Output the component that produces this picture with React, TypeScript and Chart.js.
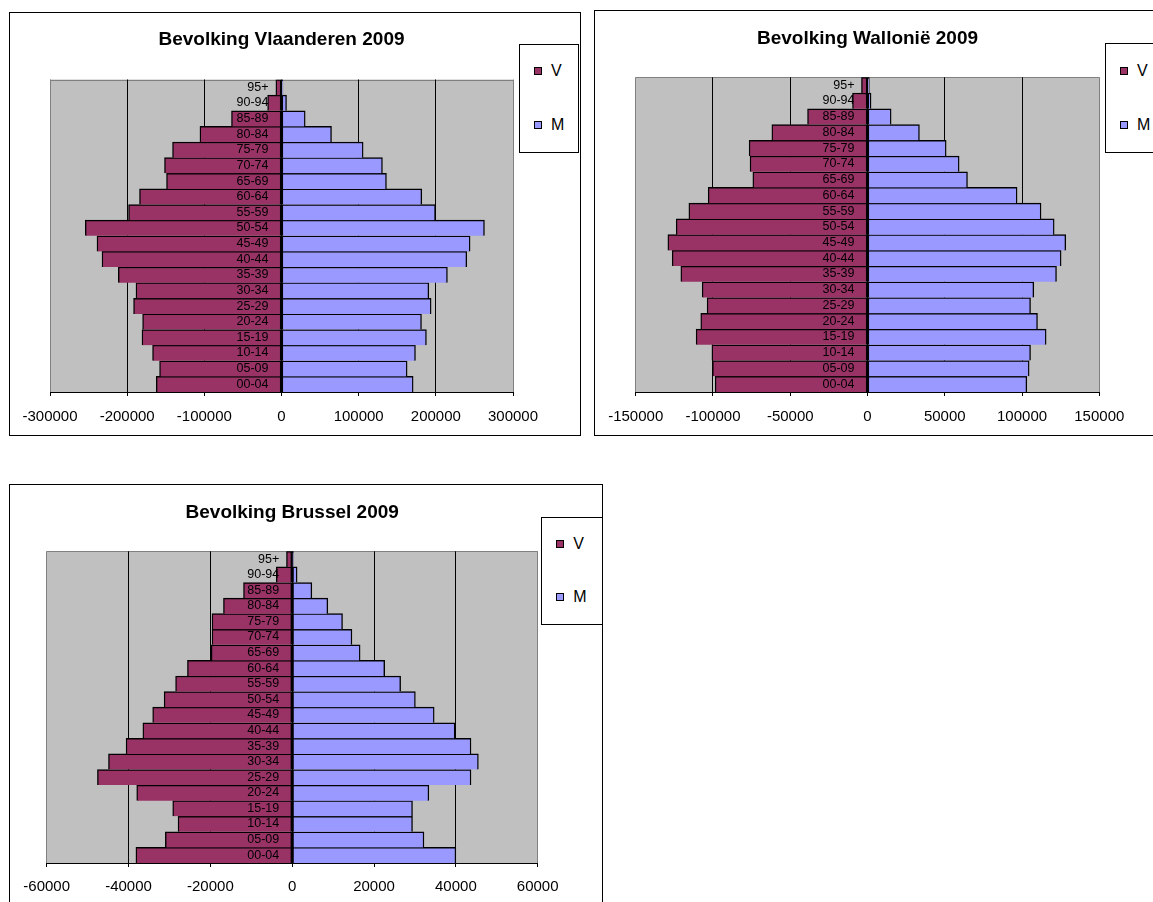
import React, { useEffect, useRef } from 'react';
import { Chart, registerables } from 'chart.js';

Chart.register(...registerables);

// ---------- data ----------
const ageGroups = [
  '00-04', '05-09', '10-14', '15-19', '20-24', '25-29', '30-34', '35-39', '40-44', '45-49',
  '50-54', '55-59', '60-64', '65-69', '70-74', '75-79', '80-84', '85-89', '90-94', '95+',
];

const seriesLabels = ['V', 'M'];

const vlaanderenV = [
  162300, 158000, 167100, 180800, 180000, 191700, 188600, 211500, 232600, 239100,
  254300, 198200, 184000, 149000, 151600, 141200, 105700, 64800, 18000, 7300,
];
const vlaanderenM = [
  170600, 162800, 173600, 187800, 181400, 193900, 190900, 215000, 240100, 244400,
  263000, 199500, 181800, 136000, 130800, 105800, 64800, 30700, 6500, 1800,
];

const wallonieV = [
  98600, 100300, 100700, 110900, 107900, 103800, 107000, 120800, 126400, 129200,
  123800, 115600, 103100, 74200, 76000, 76600, 61900, 38800, 9700, 3900,
];
const wallonieM = [
  103100, 104600, 105500, 115600, 110000, 105500, 107600, 122300, 125300, 128300,
  120800, 112300, 96800, 64700, 59300, 50900, 33600, 15300, 2300, 1200,
];

const brusselV = [
  38200, 31000, 27900, 29200, 38000, 47600, 44900, 40600, 36500, 34100,
  31300, 28500, 25600, 19800, 19600, 19600, 16800, 11900, 3900, 1400,
];
const brusselM = [
  40000, 32200, 29400, 29400, 33400, 43700, 45500, 43700, 39800, 34700,
  30100, 26500, 22600, 16600, 14600, 12300, 8700, 4800, 1200, 300,
];

const vlaanderenTicks = [-300000, -200000, -100000, 0, 100000, 200000, 300000];
const wallonieTicks = [-150000, -100000, -50000, 0, 50000, 100000, 150000];
const brusselTicks = [-60000, -40000, -20000, 0, 20000, 40000, 60000];

// ---------- styles ----------
const FONT = 'Arial, "Liberation Sans", Helvetica, sans-serif';
const COLOR_V = '#993366';
const COLOR_M = '#9999FF';
const PLOT_BG = '#C0C0C0';

const pyramidPlugin = {
  id: 'pyramidDecor',
  beforeDraw(chart: any) {
    const { ctx, chartArea: a } = chart;
    ctx.save();
    ctx.fillStyle = PLOT_BG;
    ctx.fillRect(a.left, a.top, a.right - a.left, a.bottom - a.top);
    ctx.strokeStyle = '#808080';
    ctx.lineWidth = 1;
    ctx.beginPath();
    const ty = Math.round(a.top) + 0.5;
    ctx.moveTo(a.left, ty);
    ctx.lineTo(a.right, ty);
    ctx.stroke();
    ctx.restore();
  },
  afterDatasetsDraw(chart: any) {
    const { ctx } = chart;
    const xs = chart.scales.x;
    const ys = chart.scales.y;
    const x0 = xs.getPixelForValue(0);
    ctx.save();
    ctx.font = `12.5px ${FONT}`;
    ctx.fillStyle = '#000';
    ctx.textAlign = 'right';
    ctx.textBaseline = 'middle';
    (chart.data.labels as string[]).forEach((lab, i) => {
      ctx.fillText(lab, x0 - 13, ys.getPixelForValue(i));
    });
    ctx.restore();
  },
};

type Box = { left: number; top: number; width: number; height: number };

type PyramidProps = {
  title: string;
  women: number[];
  men: number[];
  ticks: number[];
  frame: Box;
  plotLeft: number;
  plotRight: number;
  axisHeight: number;
  titlePad: { top: number; bottom: number };
  tickPad: number;
  legend: Box & { vY: number; mY: number };
};

function Pyramid(p: PyramidProps) {
  const ref = useRef<HTMLCanvasElement>(null);
  const cw = p.frame.width - 2;
  const ch = p.frame.height - 2;

  useEffect(() => {
    const limit = p.ticks[p.ticks.length - 1];
    const step = p.ticks[1] - p.ticks[0];
    const border = { top: 1.5, right: 1.4, bottom: 0, left: 1.4 };
    const chart = new Chart(ref.current as HTMLCanvasElement, {
      type: 'bar',
      data: {
        labels: ageGroups,
        datasets: [
          {
            label: seriesLabels[0],
            data: p.women.map((v) => -v),
            backgroundColor: COLOR_V,
            borderColor: '#000',
            borderWidth: border,
            borderSkipped: false,
            barPercentage: 1,
            categoryPercentage: 1,
          },
          {
            label: seriesLabels[1],
            data: p.men,
            backgroundColor: COLOR_M,
            borderColor: '#000',
            borderWidth: border,
            borderSkipped: false,
            barPercentage: 1,
            categoryPercentage: 1,
          },
        ],
      },
      options: {
        responsive: false,
        animation: false,
        indexAxis: 'y',
        layout: { padding: { left: p.plotLeft, right: cw - p.plotRight, top: 0, bottom: 0 } },
        plugins: {
          legend: { display: false },
          tooltip: { enabled: false },
          title: {
            display: true,
            text: p.title,
            color: '#000',
            font: { family: FONT, size: 19, weight: 'bold', lineHeight: 1.2 },
            padding: { top: p.titlePad.top, bottom: p.titlePad.bottom },
          },
        },
        scales: {
          x: {
            type: 'linear',
            min: p.ticks[0],
            max: limit,
            stacked: true,
            afterFit: (s: any) => {
              s.height = p.axisHeight;
            },
            ticks: {
              stepSize: step,
              color: '#000',
              padding: p.tickPad,
              maxRotation: 0,
              autoSkip: false,
              font: { family: FONT, size: 15, lineHeight: 1.6 },
              callback: (v: any) => String(v),
            },
            grid: {
              color: (c: any) =>
                c.tick && Math.abs(c.tick.value) === limit ? '#808080' : '#000',
              tickColor: '#000',
              tickLength: 4,
              lineWidth: 1,
            },
            border: { display: true, color: '#000', width: 1, z: 1 },
          },
          y: {
            type: 'category',
            display: false,
            reverse: true,
            stacked: true,
            offset: true,
          },
        },
      } as any,
      plugins: [pyramidPlugin],
    });
    return () => chart.destroy();
  }, []);

  const lg = p.legend;
  const item = (label: string, color: string, cy: number) => (
    <React.Fragment key={label}>
      <div
        style={{
          position: 'absolute',
          left: 14,
          top: cy - 5,
          width: 8,
          height: 8,
          boxSizing: 'border-box',
          border: '1px solid #000',
          background: color,
        }}
      />
      <div
        style={{
          position: 'absolute',
          left: 31,
          top: cy - 10,
          height: 18,
          lineHeight: '18px',
          fontFamily: FONT,
          fontSize: 16,
          color: '#000',
          whiteSpace: 'nowrap',
        }}
      >
        {label}
      </div>
    </React.Fragment>
  );

  return (
    <div
      style={{
        position: 'absolute',
        left: p.frame.left,
        top: p.frame.top,
        width: p.frame.width,
        height: p.frame.height,
        boxSizing: 'border-box',
        border: '1px solid #000',
        background: '#fff',
      }}
    >
      <canvas
        ref={ref}
        width={cw}
        height={ch}
        style={{ position: 'absolute', left: 0, top: 0, width: cw, height: ch }}
      />
      <div
        style={{
          position: 'absolute',
          left: lg.left,
          top: lg.top,
          width: lg.width,
          height: lg.height,
          boxSizing: 'border-box',
          border: '1px solid #000',
          background: '#fff',
        }}
      >
        {item(seriesLabels[0], COLOR_V, lg.vY)}
        {item(seriesLabels[1], COLOR_M, lg.mY)}
      </div>
    </div>
  );
}

export default function App() {
  return (
    <div
      style={{
        position: 'fixed',
        left: 0,
        top: 0,
        width: 1153,
        height: 902,
        overflow: 'hidden',
        background: '#fff',
      }}
    >
      <Pyramid
        title="Bevolking Vlaanderen 2009"
        women={vlaanderenV}
        men={vlaanderenM}
        ticks={vlaanderenTicks}
        frame={{ left: 9, top: 12, width: 572, height: 424 }}
        plotLeft={40}
        plotRight={503}
        axisHeight={43}
        titlePad={{ top: 15.1, bottom: 28.6 }}
        tickPad={9}
        legend={{ left: 509, top: 31, width: 60, height: 109, vY: 27, mY: 81 }}
      />
      <Pyramid
        title="Bevolking Wallonië 2009"
        women={wallonieV}
        men={wallonieM}
        ticks={wallonieTicks}
        frame={{ left: 594, top: 10, width: 572, height: 426 }}
        plotLeft={40.7}
        plotRight={504.3}
        axisHeight={43}
        titlePad={{ top: 15.9, bottom: 27.6 }}
        tickPad={8.7}
        legend={{ left: 510, top: 32.3, width: 60, height: 110, vY: 27.5, mY: 82 }}
      />
      <Pyramid
        title="Bevolking Brussel 2009"
        women={brusselV}
        men={brusselM}
        ticks={brusselTicks}
        frame={{ left: 9, top: 484, width: 594, height: 424 }}
        plotLeft={36.7}
        plotRight={527.7}
        axisHeight={44}
        titlePad={{ top: 16.4, bottom: 27.1 }}
        tickPad={8}
        legend={{ left: 531.3, top: 31.7, width: 61.4, height: 108.3, vY: 27.3, mY: 80.6 }}
      />
    </div>
  );
}
